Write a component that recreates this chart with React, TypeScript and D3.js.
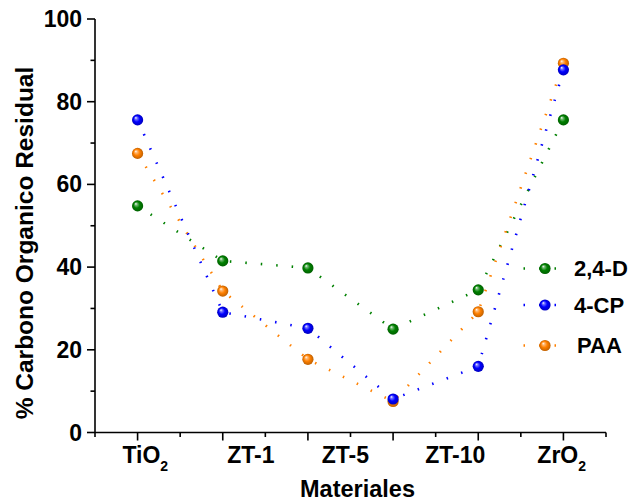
import React from 'react';
import * as d3 from 'd3';

// ---- data ----
const sampleIndex = [0, 1, 2, 3, 4, 5];
const labelBase = ['TiO', 'ZT-1', 'ZT-5', 'ZT-10', 'ZrO'];
const labelSub = ['2', '', '', '', '2'];
const labelPos = [0.09, 1.33, 2.44, 3.73, 4.98];
const seriesNames = ['2,4-D', '4-CP', 'PAA'];
const values24D = [54.8, 41.5, 39.8, 25.0, 34.5, 75.6];
const values4CP = [75.6, 29.1, 25.2, 8.1, 16.0, 87.7];
const valuesPAA = [67.5, 34.2, 17.7, 7.5, 29.2, 89.3];
const seriesColors = ['#008000', '#0000ff', '#ff8000'];
const yMajorTicks = [0, 20, 40, 60, 80, 100];
const yMinorTicks = [10, 30, 50, 70, 90];
const xMajorTicks = [0, 1, 2, 3, 4, 5];
const xMinorTicks = [-0.5, 0.5, 1.5, 2.5, 3.5, 4.5, 5.5];

const FONT = "'Liberation Sans', Arial, sans-serif";

export default function App() {
  const W = 633, H = 503;
  const x = d3.scaleLinear().domain([-0.5, 5.5]).range([95, 606]);
  const y = d3.scaleLinear().domain([0, 100]).range([432.5, 19]);
  const allValues = [values24D, values4CP, valuesPAA];
  const line = d3.line<[number, number]>().x(d => x(d[0])).y(d => y(d[1]));
  const drawOrder = [0, 2, 1];
  const legendY = [268.5, 305, 345.5];
  const legendTextX = [574, 574, 577];

  const lighten = (c: string, k: number) => d3.interpolateRgb(c, '#ffffff')(k);
  const darken = (c: string, k: number) => d3.interpolateRgb(c, '#000000')(k);

  return (
    <svg width={W} height={H} style={{ position: 'absolute', left: 0, top: 0, background: '#fff' }} fontFamily={FONT}>
      <defs>
        {seriesColors.map((c, i) => (
          <radialGradient key={i} id={`sph${i}`} cx="0.5" cy="0.5" r="0.5" fx="0.33" fy="0.3">
            <stop offset="0" stopColor="#ffffff" />
            <stop offset="0.22" stopColor={lighten(c, 0.45)} />
            <stop offset="0.55" stopColor={c} />
            <stop offset="1" stopColor={darken(c, 0.25)} />
          </radialGradient>
        ))}
      </defs>
      <rect x={0} y={0} width={W} height={H} fill="#fff" />

      {/* series lines */}
      {drawOrder.map(si => (
        <path key={`l${si}`} d={line(sampleIndex.map((xi, j) => [xi, allValues[si][j]]) as [number, number][]) || ''}
          fill="none" stroke={seriesColors[si]} strokeWidth={2.6} strokeDasharray="1.5 14" />
      ))}
      {/* markers */}
      {drawOrder.map(si => (
        <g key={`m${si}`}>
          {sampleIndex.map((xi, j) => (
            <circle key={j} cx={x(xi)} cy={y(allValues[si][j])} r={5.6} fill={`url(#sph${si})`} />
          ))}
        </g>
      ))}

      {/* axes */}
      <g stroke="#000" strokeWidth={1.6}>
        <line x1={x(-0.5)} x2={x(-0.5)} y1={y(100)} y2={y(0)} />
        <line x1={x(-0.5)} x2={x(5.5)} y1={y(0)} y2={y(0)} />
        {yMajorTicks.map(t => <line key={`ym${t}`} x1={x(-0.5) - 8} x2={x(-0.5)} y1={y(t)} y2={y(t)} />)}
        {yMinorTicks.map(t => <line key={`yn${t}`} x1={x(-0.5) - 4.5} x2={x(-0.5)} y1={y(t)} y2={y(t)} />)}
        {xMajorTicks.map(t => <line key={`xm${t}`} x1={x(t)} x2={x(t)} y1={y(0)} y2={y(0) + 8} />)}
        {xMinorTicks.map(t => <line key={`xn${t}`} x1={x(t)} x2={x(t)} y1={y(0)} y2={y(0) + 4.5} />)}
      </g>

      {/* y tick labels */}
      {yMajorTicks.map(t => (
        <text key={`yl${t}`} x={82} y={y(t)} dy="0.35em" textAnchor="end" fontSize={23} fontWeight="bold">{t}</text>
      ))}
      {/* x category labels */}
      {labelBase.map((b, i) => (
        <text key={`xl${i}`} x={x(labelPos[i])} y={463} textAnchor="middle" fontSize={23} fontWeight="bold">
          {b}
          {labelSub[i] ? <tspan fontSize={14} dy={8}>{labelSub[i]}</tspan> : null}
        </text>
      ))}

      {/* axis titles */}
      <text x={357.5} y={497} textAnchor="middle" fontSize={23.5} fontWeight="bold">Materiales</text>
      <text transform="translate(33,243) rotate(-90)" textAnchor="middle" fontSize={24.5} fontWeight="bold">% Carbono Organico Residual</text>

      {/* legend */}
      {seriesNames.map((name, i) => (
        <g key={`lg${i}`}>
          <line x1={523.5} x2={557} y1={legendY[i]} y2={legendY[i]} stroke={seriesColors[i]} strokeWidth={2.6} strokeDasharray="1.5 14" />
          <circle cx={545} cy={legendY[i]} r={5.6} fill={`url(#sph${i})`} />
          <text x={legendTextX[i]} y={legendY[i]} dy="0.35em" fontSize={22} fontWeight="bold">{name}</text>
        </g>
      ))}
    </svg>
  );
}
